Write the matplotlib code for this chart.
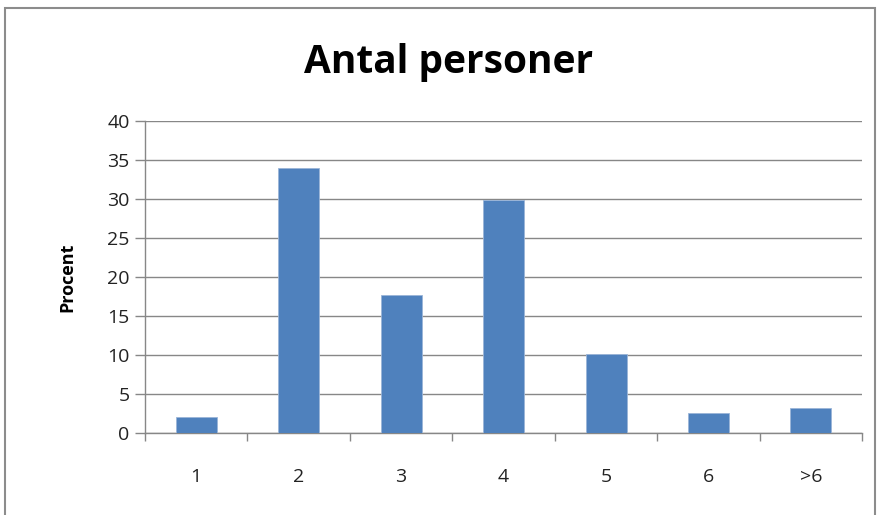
import matplotlib.pyplot as plt
from matplotlib.patches import Rectangle

# Data
categories = ["1", "2", "3", "4", "5", "6", ">6"]
procent = [2.1, 34.0, 17.7, 29.9, 10.2, 2.6, 3.2]
yticks = [0, 5, 10, 15, 20, 25, 30, 35, 40]

plt.rcParams["font.family"] = ["Open Sans", "DejaVu Sans"]

fig = plt.figure(figsize=(8.78, 5.15), dpi=100)
ax = fig.add_axes([0.165, 0.1586, 0.817, 0.607])

x = list(range(len(categories)))
ax.bar(x, procent, width=0.4, color="#4F81BD", edgecolor="#9BB5D8", linewidth=0.6, zorder=3)

ax.set_xlim(-0.5, len(categories) - 0.5)
ax.set_ylim(0, 40)
ax.set_yticks(yticks)
ax.set_xticks(x)
ax.set_xticklabels(categories)
ax.tick_params(axis="x", length=0, pad=25, labelsize=14, colors="#222222")
ax.set_xticks([i - 0.5 for i in range(len(categories) + 1)], minor=True)
ax.tick_params(axis="x", which="minor", length=6, width=1, color="#878787")
ax.tick_params(axis="y", length=7, width=1, color="#878787", labelsize=14, labelcolor="#222222", pad=4)

ax.grid(axis="y", color="#878787", linewidth=1, zorder=0)
for side in ["top", "right"]:
    ax.spines[side].set_visible(False)
for side in ["left", "bottom"]:
    ax.spines[side].set_color("#878787")
    ax.spines[side].set_linewidth(1)

ax.set_ylabel("Procent", fontsize=13, fontweight="bold", labelpad=22)
fig.text(0.511, 0.878, "Antal personer", ha="center", va="center", fontsize=28, fontweight="bold")

# outer chart frame
fig.patches.append(Rectangle((5 / 878, -0.05), 870 / 878, 1 - 8 / 515 + 0.05,
                             transform=fig.transFigure, fill=False,
                             edgecolor="#8C8C8C", linewidth=1.5))

fig.savefig("out.png", dpi=100)
